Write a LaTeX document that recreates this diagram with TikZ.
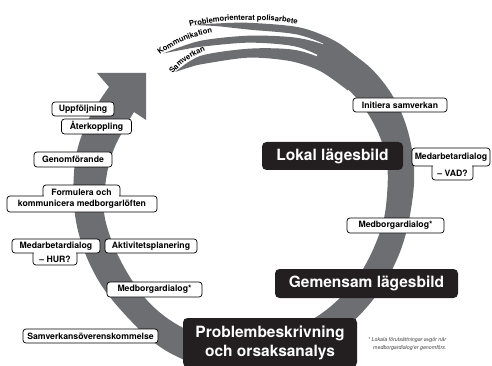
\documentclass[tikz,border=0pt]{standalone}
\usepackage{fontspec}
\setmainfont{TeX Gyre Heros}
\usetikzlibrary{decorations.text}
\definecolor{bandgray}{RGB}{109,110,113}
\definecolor{boxblack}{RGB}{35,31,32}
\newcommand\tailfont{\bfseries\fontsize{7.6}{9}\selectfont}
\begin{document}
\begin{tikzpicture}[x=1pt,y=-1pt,
  wbox/.style={draw=black, fill=white, rounded corners=3pt, line width=0.7pt, inner sep=0pt},
  wlabel/.style={font=\bfseries\fontsize{8.7}{10}\selectfont, inner sep=0pt, align=center},
  bbox/.style={fill=boxblack, rounded corners=4.5pt, text=white, font=\bfseries\fontsize{15.5}{19}\selectfont, inner sep=0pt, align=center},
  band/.style={fill=bandgray},
  foot/.style={font=\itshape\fontsize{5.3}{6.5}\selectfont, text=black!75, inner sep=0pt}]
\useasboundingbox (0,0) rectangle (492,366);

\begin{scope}[shift={(243,195)}]
% main band with arrow head
\fill[band] plot[smooth, tension=0.6] coordinates {(-62:179) (-45:180) (-30:179) (-15:175) (0:170) (20:167) (40:167) (60:169) (80:172) (100:175) (115:174) (130:169) (150:168) (170:169) (190:171) (205:172) (-134,-108)}
  -- (-146,-122) -- (-97,-122) -- (-97,-75) -- (-109,-83)
  -- plot[smooth, tension=0.6] coordinates {(-109,-83) (200:137) (185:138) (170:140) (150:139) (130:143) (112:146) (95:146) (75:144) (55:142) (35:141) (15:142) (0:144) (-15:148) (-30:149) (-45:149) (-62:148)} -- cycle;
% tails
\fill[band] plot[smooth] coordinates {(-45:179) (-58:179.5) (-71:177) (-88:172.3) (-100:174) (-106.4:177.2)}
  -- plot[smooth] coordinates {(-106.4:177.2) (-99:171) (-88:165.5) (-71:169.5) (-58:172) (-45:172)} -- cycle;
\fill[band] plot[smooth] coordinates {(-45:172) (-58:172) (-70.5:166.5) (-87.5:159.5) (-105.5:160) (-119.4:162.5)}
  -- plot[smooth] coordinates {(-119.4:162.5) (-112:157) (-105.5:154) (-87.5:152.5) (-70.5:157.5) (-58:159) (-45:159)} -- cycle;
\fill[band] plot[smooth] coordinates {(-45:159) (-58:158) (-70.5:154) (-87.5:146.5) (-107:145.5) (-118.9:140.5)}
  -- plot[smooth] coordinates {(-118.9:140.5) (-113:138.5) (-107:137) (-87.5:137.5) (-70.5:142) (-58:146) (-45:148)} -- cycle;
\end{scope}

% tail labels
\coordinate (pa) at (190,27);
\coordinate (pb) at (306,26);
\coordinate (ka) at (160,55);
\coordinate (kb) at (226,31);
\coordinate (sa) at (173,74);
\coordinate (sb) at (222,45);
\path[decorate, decoration={text along path, text align={left}, text={|\tailfont|Problemorienterat polisarbete}}]
  (pa) .. controls (225,18) and (270,18) .. (pb);
\path[decorate, decoration={text along path, text align={left}, text={|\tailfont|Kommunikation}}]
  (ka) .. controls (174,44) and (195,34) .. (kb);
\path[decorate, decoration={text along path, text align={left}, text={|\tailfont|Samverkan}}]
  (sa) .. controls (181,63) and (196,52) .. (sb);

% white boxes
\node[wbox, wlabel, minimum width=94pt, minimum height=14pt] (initiera) at (400,105) {Initiera samverkan};
\node[wbox, wlabel, minimum width=97pt, minimum height=15pt] (medbR) at (395.5,225.5) {Medborgardialog*};
\node[wbox, wlabel, minimum width=135pt, minimum height=14pt] (samov) at (90.5,336) {Samverkansöverenskommelse};
\node[wbox, wlabel, minimum width=95pt, minimum height=15pt] (medbL) at (154.5,289.5) {Medborgardialog*};
\node[wbox, wlabel, minimum width=92pt, minimum height=14pt] (aktiv) at (151,246) {Aktivitetsplanering};
\node[wbox, wlabel, minimum width=78pt, minimum height=15pt] (genom) at (73,159.5) {Genomförande};
\node[wbox, wlabel, minimum width=62pt, minimum height=14pt] (uppf) at (83,109) {Uppföljning};
\node[wbox, wlabel, minimum width=70pt, minimum height=15pt] (aterk) at (96.5,126.5) {Återkoppling};

% Medarbetardialog - VAD?
\node[wbox, minimum width=41pt, minimum height=18pt] (vadtab) at (452.5,171) {};
\node[wbox, wlabel, minimum width=78pt, minimum height=18pt] (vad) at (451,157) {Medarbetardialog};
\fill[white] (433.2,163.5) rectangle (471.8,168);
\node[wlabel] (vadtxt) at (452.5,173) {– VAD?};

% Medarbetardialog - HUR?
\node[wbox, minimum width=44pt, minimum height=16pt] (hurtab) at (55,257) {};
\node[wbox, wlabel, minimum width=88pt, minimum height=14pt] (hur) at (56,246) {Medarbetardialog};
\fill[white] (34.2,250.5) rectangle (75.8,255);
\node[wlabel] (hurtxt) at (55,259.3) {– HUR?};

% Formulera och kommunicera medborgarlöften
\node[wbox, minimum width=77pt, minimum height=15pt] (formtab) at (81.5,192.5) {};
\node[wbox, minimum width=150pt, minimum height=16pt] (formbox) at (82,204) {};
\fill[white] (44.2,194) rectangle (118.8,198.5);
\node[wlabel] (formtxt1) at (81.5,192.3) {Formulera och};
\node[wlabel] (formtxt2) at (82,204.3) {kommunicera medborgarlöften};

% black boxes
\node[bbox, minimum width=141pt, minimum height=28pt] (lokal) at (332.5,156) {Lokal lägesbild};
\node[bbox, minimum width=183pt, minimum height=29pt] (gemensam) at (366.5,283.5) {Gemensam lägesbild};
\node[bbox, minimum width=174pt, minimum height=49pt] (problem) at (270,342.5) {Problembeskrivning\\och orsaksanalys};

% footnote
\node[foot, anchor=base west] (fn1) at (368,341) {* Lokala förutsättningar avgör när};
\node[foot, anchor=base west] (fn2) at (373,349) {medborgardialog’er genomförs.};
\end{tikzpicture}
\end{document}
